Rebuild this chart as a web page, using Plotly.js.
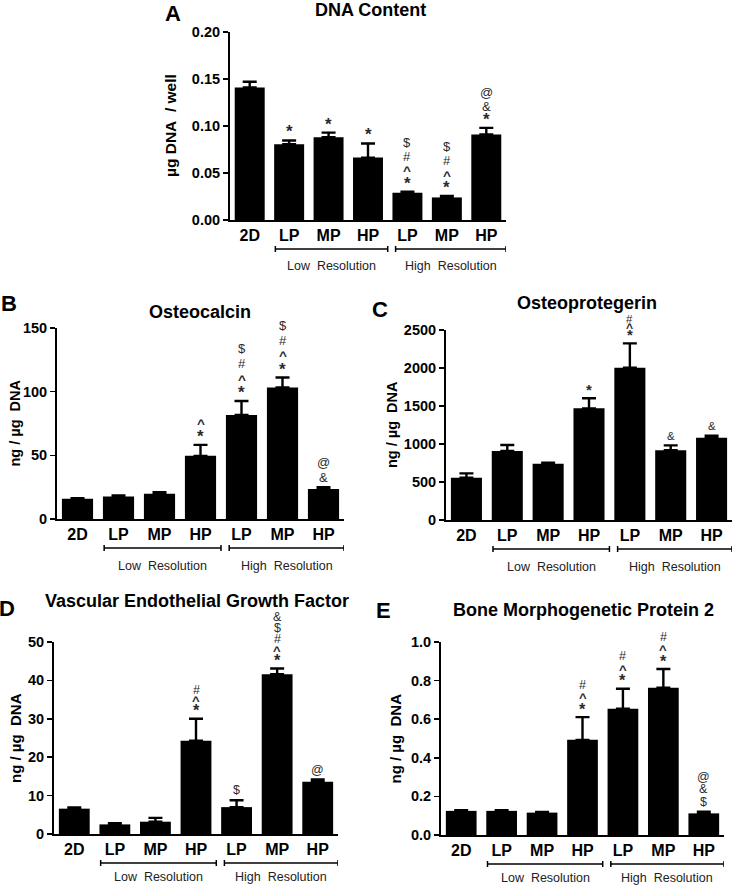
<!DOCTYPE html>
<html><head><meta charset="utf-8">
<script src="https://cdn.plot.ly/plotly-3.0.1.min.js"></script>
<style>html,body{margin:0;padding:0;background:#fff}#chart{width:733px;height:886px}</style>
</head><body><div id="chart"></div>
<script>
// ---------- data ----------
const categories = ['2D','LP','MP','HP','LP','MP','HP'];
const groupLabels = ['Low\u00a0 Resolution','High\u00a0 Resolution'];
const groupSpans = [[0.65,3.5],[3.7,6.5]];

// significance symbols listed bottom -> top
const dnaMean = [0.141,0.0806,0.088,0.0664,0.029,0.024,0.091];
const dnaErr  = [0.006,0.004,0.005,0.015,0.001,0.0015,0.007];
const dnaSig  = [[],['*'],['*'],['*'],['*','^','#','$'],['*','^','#','$'],['*','&','@']];

const ocMean = [15.9,17.7,19.8,49.6,81.7,103.3,23.5];
const ocErr  = [0.5,0.8,1.3,8.6,11,7.8,1.5];
const ocSig  = [[],[],[],['*','^'],['*','^','#','$'],['*','^','#','$'],['&','@']];

const opgMean = [557,908,741,1469,2004,917,1083];
const opgErr  = [57,79,13,132,320,65,27];
const opgSig  = [[],[],[],['*'],['*','^','#'],['&'],['&']];

const vegfMean = [6.6,2.5,3.2,24.3,7.0,41.6,13.6];
const vegfErr  = [0.3,0.3,1.0,5.7,1.8,1.5,0.6];
const vegfSig  = [[],[],[],['*','^','#'],['$'],['*','^','#','$','&'],['@']];

const bmpMean = [0.125,0.125,0.116,0.493,0.654,0.763,0.112];
const bmpErr  = [0.003,0.003,0.003,0.118,0.104,0.097,0.009];
const bmpSig  = [[],[],[],['*','^','#'],['*','^','#'],['*','^','#'],['$','&','@']];

// ---------- layout ----------
const W = 733, H = 886;
const FONT = 'Liberation Sans, Arial, sans-serif';
const panels = [
  {letter:'A', title:'DNA Content', ytitle:'µg DNA\u00a0 / well', ysize:15.5, mean:dnaMean, err:dnaErr, sig:dnaSig,
   range:[0,0.2], dtick:0.05, fmt:'.2f', box:{l:230,r:506,t:32,b:220}, tx:370, ty:10.5, lx:173, ly:14, yx:170,
   sp:14, ss:13, gy:-46},
  {letter:'B', title:'Osteocalcin', ytitle:'ng / µg\u00a0 DNA', ysize:14.5, mean:ocMean, err:ocErr, sig:ocSig,
   range:[0,150], dtick:50, fmt:'', box:{l:57,r:344,t:328,b:519}, tx:200, ty:312, lx:9, ly:303, yx:15,
   sp:15, ss:13, gy:-47},
  {letter:'C', title:'Osteoprotegerin', ytitle:'ng / µg\u00a0 DNA', ysize:14.5, mean:opgMean, err:opgErr, sig:opgSig,
   range:[0,2500], dtick:500, fmt:'', box:{l:446,r:732,t:330,b:520}, tx:587, ty:303, lx:380, ly:309, yx:392,
   sp:8.5, ss:11.5, gy:-47},
  {letter:'D', title:'Vascular Endothelial Growth Factor', ytitle:'ng / µg\u00a0 DNA', ysize:15, mean:vegfMean, err:vegfErr, sig:vegfSig,
   range:[0,50], dtick:10, fmt:'', box:{l:54,r:338,t:642,b:834}, tx:197, ty:601, lx:7, ly:608, yx:15,
   sp:11, ss:12.5, gy:-43},
  {letter:'E', title:'Bone Morphogenetic Protein 2', ytitle:'ng / µg\u00a0 DNA', ysize:15, mean:bmpMean, err:bmpErr, sig:bmpSig,
   range:[0,1], dtick:0.2, fmt:'.1f', box:{l:441,r:724,t:642,b:835}, tx:583, ty:610, lx:383, ly:610, yx:395,
   sp:12.5, ss:12.5, gy:-43}
];

// glyph styling: vertical correction of glyph centre in its text box (per em), size factor, weight
const glyphStyle = {
  '*': {lift:0.0, scale:1.3, weight:'bold'},
  '^': {lift:0.12, scale:1.05, weight:'bold'}
};
const defaultGlyph = {lift:0.1, scale:1, weight:'normal'};
const xIdx = categories.map((_, i) => i);
const data = [];
const layout = {
  width: W, height: H, margin:{l:0,r:0,t:0,b:0},
  paper_bgcolor:'#fff', plot_bgcolor:'#fff', showlegend:false,
  font:{family:FONT, color:'#000'},
  annotations:[], shapes:[]
};
const px = v => v / W, py = v => 1 - v / H;
const esc = s => s === '&' ? '&amp;' : s;

panels.forEach((p, k) => {
  const n = k === 0 ? '' : String(k + 1);
  const xa = 'x' + n, ya = 'y' + n;
  data.push({
    type:'bar', x:xIdx, y:p.mean, xaxis:xa, yaxis:ya, width:0.76,
    marker:{color:'#000', line:{width:0}},
    error_y:{type:'data', symmetric:false, array:p.err, arrayminus:p.err.map(() => 0),
             color:'#000', thickness:2.4, width:7},
    hoverinfo:'none'
  });
  layout['xaxis' + n] = {
    domain:[px(p.box.l), px(p.box.r)], anchor:ya, range:[-0.5, 6.5],
    showline:true, linewidth:2, linecolor:'#000', showgrid:false, zeroline:false,
    ticks:'', tickvals:xIdx, ticktext:categories,
    tickfont:{family:FONT, size:16, weight:'bold', color:'#000'}, fixedrange:true
  };
  layout['yaxis' + n] = {
    domain:[py(p.box.b), py(p.box.t)], anchor:xa, range:p.range, dtick:p.dtick, tickformat:p.fmt,
    showline:true, linewidth:2, linecolor:'#000', showgrid:false, zeroline:false,
    ticks:'outside', ticklen:5, tickwidth:1.5, tickcolor:'#000',
    tickfont:{family:FONT, size:14.5, weight:'bold', color:'#000'}, fixedrange:true
  };
  const hpx = p.box.b - p.box.t;
  // significance markers, one annotation per symbol
  p.sig.forEach((list, i) => {
    list.forEach((s, j) => {
      const g = glyphStyle[s] || defaultGlyph;
      const size = p.ss * g.scale;
      const first = list[0] === '*' ? 8.5 : 11;
      const centre = first + j * p.sp;
      layout.annotations.push({xref:xa, yref:ya, x:i, y:p.mean[i] + p.err[i], text:esc(s),
        showarrow:false, xanchor:'center', yanchor:'middle', yshift:centre - g.lift * size,
        font:{family:FONT, size:size, weight:g.weight, color:'#2a2a2a'}});
    });
  });
  // group brackets & labels
  groupSpans.forEach((g, j) => {
    const yb = -29 / hpx, tk = 3 / hpx;
    const ln = {color:'#000', width:1.5};
    layout.shapes.push({type:'line', xref:xa, yref:ya + ' domain', x0:g[0], x1:g[1], y0:yb, y1:yb, line:ln});
    layout.shapes.push({type:'line', xref:xa, yref:ya + ' domain', x0:g[0], x1:g[0], y0:yb - tk, y1:yb + tk, line:ln});
    layout.shapes.push({type:'line', xref:xa, yref:ya + ' domain', x0:g[1], x1:g[1], y0:yb - tk, y1:yb + tk, line:ln});
    layout.annotations.push({xref:xa, yref:ya + ' domain', x:(g[0] + g[1]) / 2, y:p.gy / hpx, text:groupLabels[j],
      showarrow:false, xanchor:'center', yanchor:'middle', font:{family:FONT, size:12.5, color:'#222'}});
  });
  // titles
  layout.annotations.push({xref:'paper', yref:'paper', x:px(p.tx), y:py(p.ty), text:p.title, showarrow:false,
    xanchor:'center', yanchor:'middle', font:{family:FONT, size:18, weight:'bold', color:'#000'}});
  layout.annotations.push({xref:'paper', yref:'paper', x:px(p.lx), y:py(p.ly), text:p.letter, showarrow:false,
    xanchor:'center', yanchor:'middle', font:{family:FONT, size:22, weight:'bold', color:'#000'}});
  layout.annotations.push({xref:'paper', yref:'paper', x:px(p.yx), y:py((p.box.t + p.box.b) / 2), text:p.ytitle, showarrow:false,
    textangle:-90, xanchor:'center', yanchor:'middle', font:{family:FONT, size:p.ysize, weight:'bold', color:'#000'}});
});

Plotly.newPlot('chart', data, layout, {displayModeBar:false, staticPlot:true});
</script>
</body></html>
